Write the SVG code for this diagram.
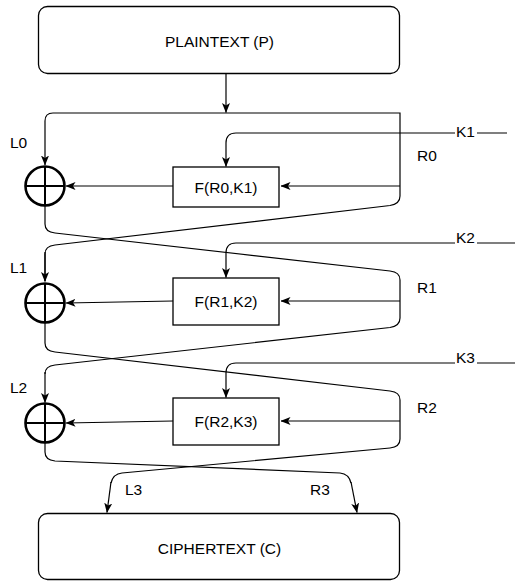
<svg xmlns="http://www.w3.org/2000/svg" width="515" height="582" viewBox="0 0 515 582">
<style>
.box{fill:#fff;stroke:#000;stroke-width:1.3}
.fbox{fill:#fff;stroke:#000;stroke-width:1.3}
.xor{fill:none;stroke:#000;stroke-width:2.6}
.xl{stroke:#000;stroke-width:2}
.e{fill:none;stroke:#000;stroke-width:1.2}
.ea{fill:none;stroke:#000;stroke-width:1.2;marker-end:url(#arr)}
text{font-family:"Liberation Sans",Arial,sans-serif;font-size:15.5px;fill:#000}
.c{text-anchor:middle}
.bg{fill:#fff}
</style>
<defs>
<marker id="arr" viewBox="0 0 10 8" refX="9.5" refY="4" markerWidth="10" markerHeight="8" markerUnits="userSpaceOnUse" orient="auto">
<path d="M0,0 L10,4 L0,8 L2.5,4 Z" fill="#000"/>
</marker>
</defs>
<g id="connectors">
<path class="ea" d="M226,73.5 V112.5"/>
<path class="ea" d="M226,113 H53 Q45,113 45,121 V165"/>
<path class="e" d="M226,113 H400 V196 Q400,204 390,205.5 L55,245 Q45,246 45,254 V281"/>
<path class="ea" d="M45,252 V281.5"/>
<path class="ea" d="M400,186 H281"/>
<path class="ea" d="M173,186 H66"/>
<path class="ea" d="M507,133 H236 Q226,133 226,143 V166.5"/>
<path class="e" d="M45,206 V224 Q45,232 55,233 L390,271 Q400,272 400,280 V318 Q400,326 390,327.5 L55,365 Q45,366 45,374"/>
<path class="ea" d="M45,372 V402.5"/>
<path class="ea" d="M400,301 H281"/>
<path class="ea" d="M173,301 L66,303"/>
<path class="ea" d="M515,243 H236 Q226,243 226,253 V277.5"/>
<path class="e" d="M45,323 V343 Q45,351 55,352 L390,391 Q400,392 400,400 V439 Q400,447 390,448 L122,473 Q113,474 111,483"/>
<path class="ea" d="M111,482 L107,512.5"/>
<path class="ea" d="M400,421 H281"/>
<path class="ea" d="M173,421 L66,423"/>
<path class="ea" d="M515,363 H236 Q226,363 226,373 V397.5"/>
<path class="e" d="M45,443 V452 Q45,460 55,461 L340,473 Q349,474 351,483"/>
<path class="ea" d="M351,482 L357,512.5"/>
</g>
<g id="plaintext">
<rect class="box" x="38.5" y="6.5" width="361" height="67" rx="9"/>
<text class="c" x="219.5" y="47">PLAINTEXT (P)</text>
</g>
<g id="ciphertext">
<rect class="box" x="38.5" y="513.5" width="361" height="66" rx="9"/>
<text class="c" x="219.5" y="554">CIPHERTEXT (C)</text>
</g>
<g id="f1">
<rect class="fbox" x="173" y="167" width="106" height="40"/>
<text class="c" x="226" y="192.5">F(R0,K1)</text>
</g>
<g id="f2">
<rect class="fbox" x="173" y="278" width="106" height="47"/>
<text class="c" x="226" y="307">F(R1,K2)</text>
</g>
<g id="f3">
<rect class="fbox" x="173" y="398" width="106" height="47"/>
<text class="c" x="226" y="427">F(R2,K3)</text>
</g>
<g id="xor1">
<circle class="xor" cx="45" cy="186" r="19.5"/>
<line class="xl" x1="25.5" y1="186" x2="64.5" y2="186"/>
<line class="xl" x1="45" y1="166.5" x2="45" y2="205.5"/>
</g>
<g id="xor2">
<circle class="xor" cx="45" cy="303" r="19.5"/>
<line class="xl" x1="25.5" y1="303" x2="64.5" y2="303"/>
<line class="xl" x1="45" y1="283.5" x2="45" y2="322.5"/>
</g>
<g id="xor3">
<circle class="xor" cx="45" cy="423" r="19.5"/>
<line class="xl" x1="25.5" y1="423" x2="64.5" y2="423"/>
<line class="xl" x1="45" y1="403.5" x2="45" y2="442.5"/>
</g>
<g id="labels">
<text x="10" y="148">L0</text>
<text x="417" y="161">R0</text>
<text x="10" y="272.5">L1</text>
<text x="417" y="292.5">R1</text>
<text x="10" y="392.5">L2</text>
<text x="417" y="412.5">R2</text>
<text x="125" y="495">L3</text>
<text x="310" y="495">R3</text>
<rect class="bg" x="455" y="125" width="22" height="14"/>
<text x="456" y="137">K1</text>
<rect class="bg" x="455" y="231" width="22" height="13.5"/>
<text x="456" y="242.5">K2</text>
<rect class="bg" x="455" y="351" width="22" height="13.5"/>
<text x="456" y="362.5">K3</text>
</g>
</svg>
